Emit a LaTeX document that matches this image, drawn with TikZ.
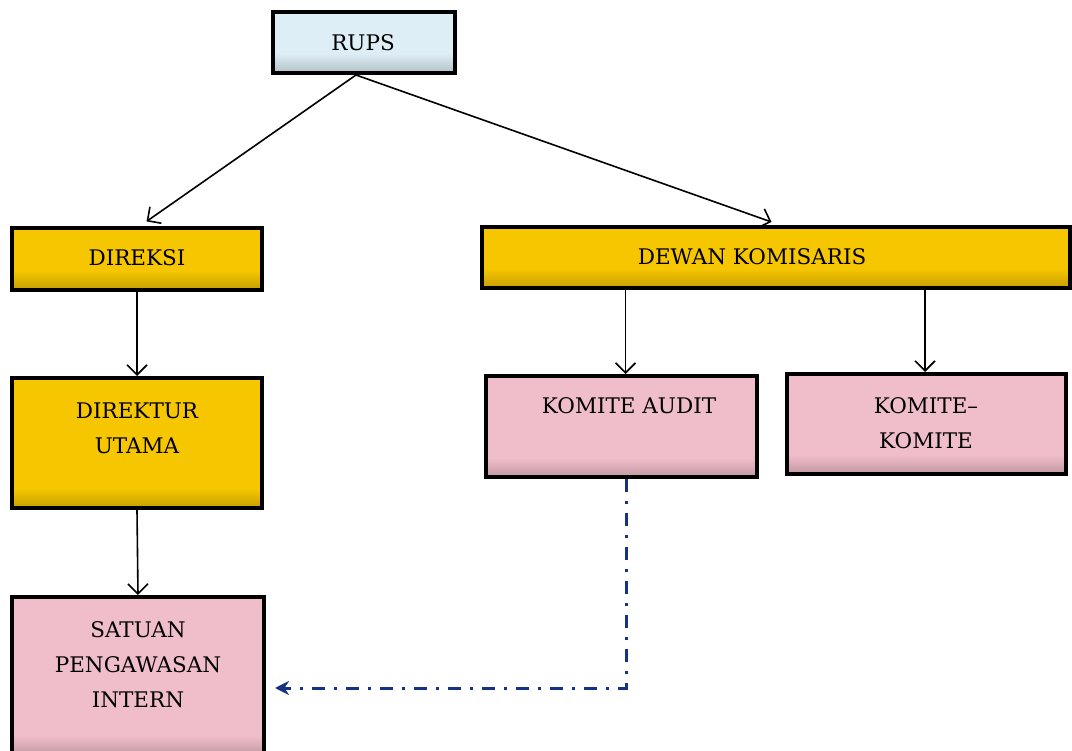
\documentclass[tikz,border=0pt]{standalone}
\usepackage{fontspec}
\setmainfont{DejaVu Serif}
\usetikzlibrary{arrows.meta,calc}
\definecolor{gold}{RGB}{246,198,0}
\definecolor{pinkbox}{RGB}{240,190,202}
\definecolor{bluebox}{RGB}{222,238,247}
\definecolor{dashblue}{RGB}{22,50,130}
\tikzset{
  box/.style={draw=black, line width=4pt, inner sep=0pt, fill=#1,
    path picture={\foreach \k [evaluate=\k as \m using int(82+2*\k)] in {0,...,8}{
      \fill[#1!\m!black] ($(path picture bounding box.south west)+(0pt,{2*\k*1pt})$) rectangle
        ($(path picture bounding box.south east)+(0pt,{(2*\k+2.3)*1pt})$);}}},
  lbl/.style={font=\fontsize{21.5}{35}\selectfont, align=center, inner sep=0pt},
  arr/.style={draw=black, line width=1.6pt, -{Straight Barb[length=10pt,width=20pt,line width=1.6pt]}},
  dashconn/.style={draw=dashblue, line width=3pt, dash pattern=on 13pt off 9pt on 3pt off 9pt,
    -{Stealth[length=14pt,width=14pt]}}
}
\begin{document}
\begin{tikzpicture}[x=1pt,y=-1pt]
\useasboundingbox (0,0) rectangle (1072,751);
% boxes
\node[box=bluebox, minimum width=182pt, minimum height=61pt] (rups) at (364,42.5) {};
\node[box=gold, minimum width=250pt, minimum height=62pt] (direksi) at (137,259) {};
\node[box=gold, minimum width=588pt, minimum height=61pt] (dewan) at (776,257.5) {};
\node[box=gold, minimum width=250pt, minimum height=130pt] (direktur) at (137,443) {};
\node[box=pinkbox, minimum width=271pt, minimum height=101pt] (ka) at (621.5,426.5) {};
\node[box=pinkbox, minimum width=279pt, minimum height=100pt] (kk) at (926.5,424) {};
\node[box=pinkbox, minimum width=252pt, minimum height=158pt] (sat) at (138,676) {};
% labels
\node[lbl] (trups) at (363,43) {RUPS};
\node[lbl] (tdireksi) at (137,258) {DIREKSI};
\node[lbl] (tdewan) at (752,257) {DEWAN KOMISARIS};
\node[lbl] (tdirektur) at (137,428) {DIREKTUR\\UTAMA};
\node[lbl] (tka) at (629,406) {KOMITE AUDIT};
\node[lbl] (tkk) at (926,423) {KOMITE--\\KOMITE};
\node[lbl] (tsat) at (138,665) {SATUAN\\PENGAWASAN\\INTERN};
% connectors
\draw[arr, shorten >=8pt] ([xshift=-8pt]rups.south) -- ([xshift=3pt]direksi.north);
\draw[arr, shorten >=9pt] ([xshift=-8pt]rups.south) -- ([xshift=4pt]dewan.north);
\draw[arr] (direksi.south) -- (direktur.north);
\draw[arr] ([xshift=4pt]ka.north |- dewan.south) -- ([xshift=4pt]ka.north);
\draw[arr] ([xshift=-1.5pt]kk.north |- dewan.south) -- ([xshift=-1.5pt]kk.north);
\draw[arr] (direktur.south) -- (sat.north);
\coordinate (dashend) at (275,688);
\draw[dashconn] ([xshift=4.5pt]ka.south) |- (dashend);
\end{tikzpicture}
\end{document}
